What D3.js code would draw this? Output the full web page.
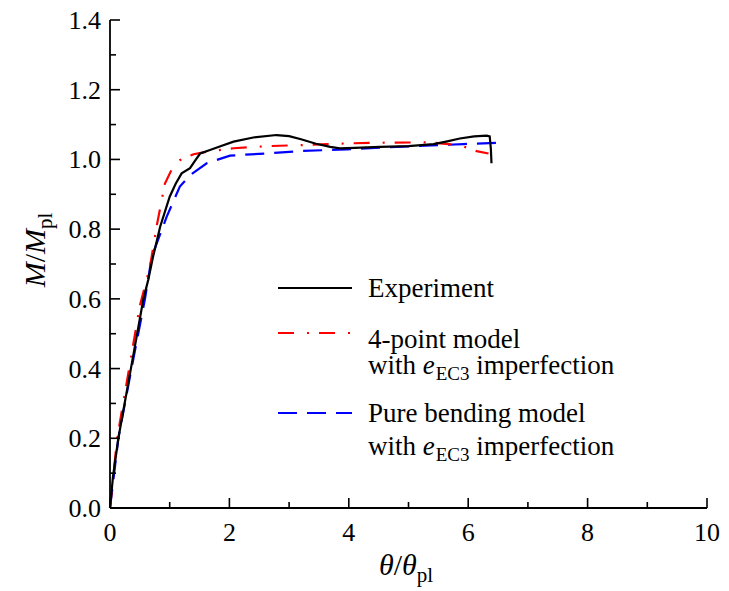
<!DOCTYPE html>
<html><head><meta charset="utf-8">
<script src="https://cdn.jsdelivr.net/npm/d3@7"></script>
<style>body{margin:0;background:#fff}svg{display:block}</style>
</head><body><svg id="c" width="729" height="591"></svg>
<script>
// ---- data ----
const expTheta = [0,0.05,0.14,0.35,0.56,0.64,0.72,0.84,1.0,1.1,1.2,1.34,1.42,1.51,1.675,1.85,2.07,2.4,2.79,3.0,3.2,3.45,3.69,3.85,4.1,4.52,5.0,5.42,5.65,5.86,6.1,6.31,6.36,6.38,6.39];
const expM     = [0,0.09,0.2,0.4,0.6,0.654,0.72,0.807,0.893,0.93,0.96,0.975,0.995,1.017,1.027,1.038,1.051,1.063,1.07,1.067,1.058,1.045,1.036,1.032,1.033,1.036,1.038,1.044,1.052,1.06,1.066,1.068,1.066,1.03,0.989];
const fpTheta  = [0,0.12,0.32,0.5,0.67,0.78,0.92,1.03,1.17,1.4,1.62,2.07,2.62,3.18,3.96,4.6,5.36,5.53,5.86,6.14,6.34];
const fpM      = [0,0.2,0.4,0.58,0.692,0.807,0.931,0.97,0.998,1.015,1.022,1.032,1.038,1.041,1.046,1.048,1.049,1.046,1.041,1.024,1.017];
const pbTheta  = [0,0.14,0.36,0.586,0.7,0.95,1.17,1.34,1.62,2.01,2.62,3.18,3.96,5.08,5.92,6.53];
const pbM      = [0,0.2,0.4,0.6,0.721,0.836,0.922,0.955,0.989,1.011,1.017,1.024,1.029,1.038,1.044,1.048];
const xTicks = [0,2,4,6,8,10];
const yTicks = [0,0.2,0.4,0.6,0.8,1.0,1.2,1.4];
const seriesNames = ["Experiment","4-point model","Pure bending model"];

const svg = d3.select("#c");
const x = d3.scaleLinear().domain([0,10]).range([110,707]);
const y = d3.scaleLinear().domain([0,1.4]).range([508,20]);

function txt(sel, size, italic){
  sel.attr("font-family","Liberation Serif").attr("font-size",size)
     .attr("style","font-family:'Liberation Serif';font-size:"+size+"px"+(italic?";font-style:italic":""));
  return sel;
}

// curves
const lineC = d3.line().x(d=>x(d[0])).y(d=>y(d[1])).curve(d3.curveLinear);
svg.append("path").datum(pbTheta.map((t,i)=>[t,pbM[i]])).attr("d",lineC).attr("fill","none").attr("stroke","#0000ff").attr("stroke-width",2.2).attr("stroke-dasharray","19,10");
svg.append("path").datum(fpTheta.map((t,i)=>[t,fpM[i]])).attr("d",lineC).attr("fill","none").attr("stroke","#ff0000").attr("stroke-width",2.2).attr("stroke-dasharray","16,13,2,10");
svg.append("path").datum(expTheta.map((t,i)=>[t,expM[i]])).attr("d",lineC).attr("fill","none").attr("stroke","#000").attr("stroke-width",2.2);

// axes: domain lines + ticks through the scales
const xa = svg.append("g").attr("transform","translate(0,508)");
const ya = svg.append("g").attr("transform","translate(110,0)");
xa.append("line").attr("x1",x(0)).attr("x2",x(10)).attr("stroke","#000").attr("stroke-width",1.8);
ya.append("line").attr("y1",y(0)).attr("y2",y(1.4)).attr("stroke","#000").attr("stroke-width",1.8);
d3.range(0,11,1).forEach(v=>{
  xa.append("line").attr("x1",x(v)).attr("x2",x(v)).attr("y1",0).attr("y2",v%2===0?-10:-6).attr("stroke","#000").attr("stroke-width",1.6);
});
d3.range(0,15,1).forEach(i=>{
  const v=i/10;
  ya.append("line").attr("y1",y(v)).attr("y2",y(v)).attr("x1",0).attr("x2",i%2===0?10:6).attr("stroke","#000").attr("stroke-width",1.6);
});
xTicks.forEach(v=>{
  txt(xa.append("text"),26).attr("x",x(v)).attr("y",33).attr("text-anchor","middle").text(d3.format("d")(v));
});
yTicks.forEach(v=>{
  txt(ya.append("text"),26).attr("x",-9).attr("y",y(v)+9).attr("text-anchor","end").text(d3.format(".1f")(v));
});

// axis titles
const yl = txt(svg.append("text"),30).attr("transform","translate(45,250) rotate(-90)").attr("text-anchor","middle");
txt(yl.append("tspan"),30,true).text("M");
yl.append("tspan").text("/");
txt(yl.append("tspan"),30,true).text("M");
txt(yl.append("tspan"),21).attr("dy",7).text("pl");
const xl = txt(svg.append("text"),30).attr("x",406).attr("y",575).attr("text-anchor","middle");
txt(xl.append("tspan"),30,true).text("θ");
xl.append("tspan").text("/");
txt(xl.append("tspan"),30,true).text("θ");
txt(xl.append("tspan"),21).attr("dy",7).text("pl");

// legend
const lg = svg.append("g");
const items = [
  {c:"#000",dash:null,y:288,name:seriesNames[0],sub:false,ty:297},
  {c:"#ff0000",dash:"16,13,2,10",y:333,name:seriesNames[1],sub:true,ty:348},
  {c:"#0000ff",dash:"19,10",y:413,name:seriesNames[2],sub:true,ty:422}
];
items.forEach(it=>{
  lg.append("line").attr("x1",278).attr("x2",352).attr("y1",it.y).attr("y2",it.y)
    .attr("stroke",it.c).attr("stroke-width",2.2).attr("stroke-dasharray",it.dash);
  txt(lg.append("text"),27).attr("x",368).attr("y",it.ty).text(it.name);
  if(it.sub){
    const t = txt(lg.append("text"),27).attr("x",368).attr("y",it.ty+(it.name===seriesNames[1]?26:33));
    t.append("tspan").text("with ");
    txt(t.append("tspan"),27,true).text("e");
    txt(t.append("tspan"),19).attr("dx",1).attr("dy",6).text("EC3");
    txt(t.append("tspan"),27).attr("dy",-6).text(" imperfection");
  }
});
</script></body></html>
